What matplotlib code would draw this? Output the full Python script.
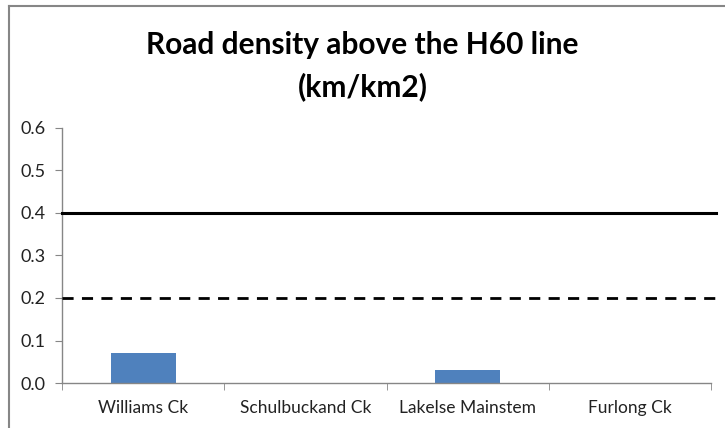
import matplotlib
matplotlib.use("Agg")
import matplotlib.pyplot as plt
from matplotlib.lines import Line2D

categories = ["Williams Ck", "Schulbuckand Ck", "Lakelse Mainstem", "Furlong Ck"]
density = [0.07, 0.0, 0.03, 0.0]
upper_threshold = 0.4
lower_threshold = 0.2
yticks = [0.0, 0.1, 0.2, 0.3, 0.4, 0.5, 0.6]

plt.rcParams['font.family'] = ['Lato', 'DejaVu Sans']

fig = plt.figure(figsize=(7.25, 4.28), dpi=100)
ax = fig.add_axes([62/725, 1-383/428, (711-62)/725, (383-128)/428])

x = list(range(len(categories)))
ax.bar(x, density, width=0.4, color="#4F81BD", zorder=2)
ax.plot([-0.5, 3.53], [upper_threshold, upper_threshold], color="black", lw=2.2, zorder=3, clip_on=False)
ax.plot([-0.5, 3.53], [lower_threshold, lower_threshold], color="black", lw=2.0, ls=(0, (4, 3)), zorder=3, clip_on=False)

ax.set_xlim(-0.5, 3.5)
ax.set_ylim(0, 0.6)
ax.set_yticks(yticks)
ax.set_yticklabels([f"{v:.1f}" for v in yticks], fontsize=13, color="#222222")
ax.set_xticks(x)
ax.set_xticklabels(categories, fontsize=12.5, color="#222222")
ax.set_xticks([-0.5, 0.5, 1.5, 2.5, 3.5], minor=True)
ax.tick_params(axis='x', which='major', length=0, pad=12)
ax.tick_params(axis='x', which='minor', length=5, color="#868686", direction='out')
ax.tick_params(axis='y', length=5, color="#868686", direction='out', pad=7)

for s in ["top", "right"]:
    ax.spines[s].set_visible(False)
for s in ["left", "bottom"]:
    ax.spines[s].set_color("#868686")
    ax.spines[s].set_linewidth(1.0)

fig.text(0.5, 1-45/428, "Road density above the H60 line", ha="center", va="center",
         fontsize=21.5, fontweight="bold")
fig.text(0.5, 1-87/428, "(km/km2)", ha="center", va="center",
         fontsize=21.5, fontweight="bold")

# chart frame (top and left edges visible)
fig.add_artist(Line2D([9/725, 1.0], [1-6/428, 1-6/428], transform=fig.transFigure, color="#868686", lw=1.5))
fig.add_artist(Line2D([9/725, 9/725], [0, 1-6/428], transform=fig.transFigure, color="#868686", lw=1.5))

fig.savefig("out.png", dpi=100)
